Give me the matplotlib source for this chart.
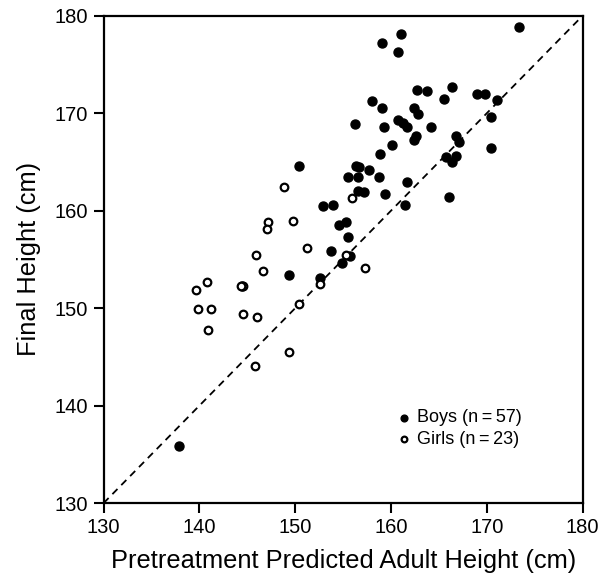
import matplotlib
matplotlib.use("Agg")
import matplotlib.pyplot as plt

plt.rcParams["font.family"] = ["Liberation Sans", "DejaVu Sans"]

# Pretreatment predicted adult height (x) vs final height (y), cm
boys_pred = [150.4, 155.5, 152.9, 153.9, 173.3, 161.0, 159.1, 160.7, 162.7, 163.8,
             166.4, 169.0, 169.8, 165.5, 171.1, 158.0, 159.1, 162.4, 162.8, 170.4,
             160.7, 161.2, 161.7, 156.2, 159.3, 164.2, 162.6, 162.4, 166.8, 167.1,
             160.1, 170.4, 158.8, 165.7, 166.8, 166.4, 156.3, 156.7, 157.7, 156.6,
             158.7, 161.7, 156.5, 157.2, 159.4, 166.0, 161.5, 154.6, 155.3, 155.5,
             153.7, 155.7, 149.4, 152.6, 154.9, 137.9, 144.4]
boys_final = [164.6, 163.4, 160.5, 160.6, 178.8, 178.1, 177.2, 176.3, 172.4, 172.3,
              172.7, 172.0, 172.0, 171.4, 171.3, 171.2, 170.5, 170.5, 169.9, 169.6,
              169.3, 169.0, 168.6, 168.9, 168.6, 168.6, 167.7, 167.2, 167.7, 167.0,
              166.7, 166.4, 165.8, 165.5, 165.6, 165.0, 164.6, 164.5, 164.2, 163.5,
              163.5, 162.9, 162.0, 161.9, 161.7, 161.4, 160.6, 158.5, 158.8, 157.3,
              155.9, 155.3, 153.4, 153.1, 154.6, 135.9, 152.3]

girls_pred = [148.8, 155.9, 147.2, 147.1, 149.8, 151.2, 155.3, 145.9, 146.6, 140.8,
              139.6, 144.5, 152.6, 150.4, 139.9, 141.2, 144.6, 146.0, 140.9, 149.3,
              145.8, 157.3, 144.3]
girls_final = [162.4, 161.3, 158.8, 158.1, 158.9, 156.2, 155.5, 155.5, 153.8, 152.7,
               151.9, 152.3, 152.5, 150.4, 149.9, 149.9, 149.4, 149.1, 147.8, 145.5,
               144.1, 154.1, 152.3]

ticks = [130, 140, 150, 160, 170, 180]

fig = plt.figure(figsize=(6.02, 5.79), dpi=100)
ax = fig.add_axes([0.172, 0.131, 0.796, 0.842])

ax.plot([130, 180], [130, 180], linestyle=(0, (4, 3)), color="black", lw=1.3, zorder=1)

ax.scatter(boys_pred, boys_final, s=42, color="black", zorder=3,
           label="Boys (n\u2009=\u200957)")
ax.scatter(girls_pred, girls_final, s=30, facecolor="white", edgecolor="black",
           linewidth=1.6, zorder=3, label="Girls (n\u2009=\u200923)")

ax.set_xlim(130, 180)
ax.set_ylim(130, 180)
ax.set_xticks(ticks)
ax.set_yticks(ticks)
ax.tick_params(direction="out", length=7, width=1.5, labelsize=14.5, pad=4)

for side in ax.spines.values():
    side.set_linewidth(1.6)

ax.set_xlabel("Pretreatment Predicted Adult Height (cm)", fontsize=18.3, labelpad=8)
ax.set_ylabel("Final Height (cm)", fontsize=18.3, labelpad=10)

ax.legend(loc="upper left", bbox_to_anchor=(0.59, 0.207), frameon=False,
          fontsize=13, handletextpad=0.1, handlelength=1.2, labelspacing=0.25,
          markerscale=0.75, borderaxespad=0)

fig.savefig("out.png", dpi=100)
